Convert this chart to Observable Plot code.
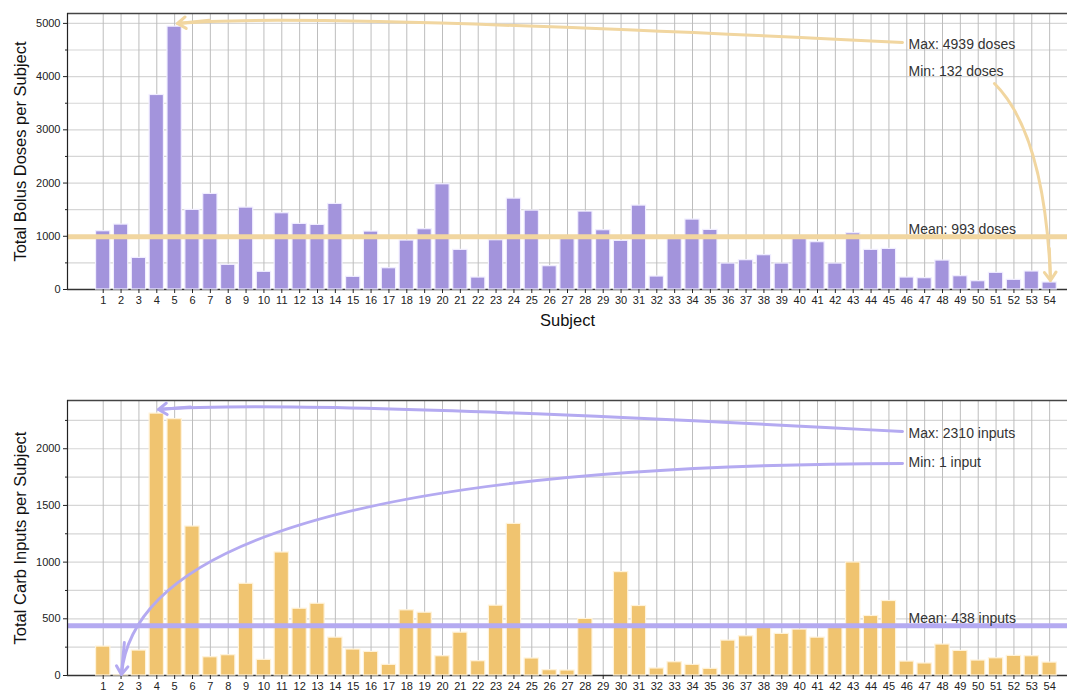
<!DOCTYPE html>
<html><head><meta charset="utf-8">
<script src="https://cdn.jsdelivr.net/npm/d3@7"></script>
<script src="https://cdn.jsdelivr.net/npm/@observablehq/plot@0.6"></script>
<style>
body{margin:0;background:#fff;}
#chart{width:1067px;height:693px;overflow:hidden;}
#chart svg{display:block;}
</style></head><body><div id="chart"></div>
<script>
// ---- data ----
const subjects = d3.range(1, 55);
const bolusDoses = [1095,1220,594,3655,4939,1496,1796,463,1539,332,1433,1233,1214,1608,238,1089,400,920,1133,1977,745,225,926,1708,1483,438,950,1464,1114,914,1577,244,950,1314,1120,488,551,645,488,970,889,488,1058,745,763,225,213,544,250,156,313,181,338,132];
const carbInputs = [255,1,220,2310,2261,1314,161,179,809,138,1085,589,633,334,229,208,94,575,554,170,378,126,616,1337,150,47,44,499,null,912,613,62,117,94,59,308,346,440,367,405,334,430,997,525,657,123,106,273,217,132,152,173,170,114];
const bolusMean = 993;
const carbMean = 438;
const bolusTicks = [0,1000,2000,3000,4000,5000];
const bolusMinor = [500,1500,2500,3500,4500];
const carbTicks = [0,500,1000,1500,2000];
const carbMinor = [250,750,1250,1750,2250];
const bolusLabels = {y: "Total Bolus Doses per Subject", x: "Subject", max: "Max: 4939 doses", min: "Min: 132 doses", mean: "Mean: 993 doses"};
const carbLabels = {y: "Total Carb Inputs per Subject", max: "Max: 2310 inputs", min: "Min: 1 input", mean: "Mean: 438 inputs"};
// annotation text anchors (data units)
const bolusNotes = [{key:"max", x:46.1, y:4600}, {key:"min", x:46.1, y:4100}];
const carbNotes = [{key:"max", x:46.1, y:2132}, {key:"min", x:46.1, y:1877}];
// annotation arrows: start, control, end (data units, quadratic curve)
const bolusArrows = [
  {x: [45.76, 11.6, 5.16], y: [4641, 5214, 4998]},
  {x: [50.91, 53.74, 54.05], y: [3871, 2922, 169]}
];
const carbArrows = [
  {x: [45.76, 11.69, 4.10], y: [2152, 2442, 2346]},
  {x: [45.76, 3.09, 2.02], y: [1870, 1852, 9]}
];

const FONT = '"Liberation Sans", Arial, Helvetica, sans-serif';
const WIDTH = 1067, ML = 67, MR = 0, XDOMAIN = [-1, 55];

// quadratic Bézier curve factory: start, control, end
function quadBezier(context) {
  let pts;
  return {
    areaStart() {}, areaEnd() {},
    lineStart() { pts = []; },
    point(x, y) { pts.push([+x, +y]); },
    lineEnd() {
      if (pts.length === 3) {
        context.moveTo(pts[0][0], pts[0][1]);
        context.quadraticCurveTo(pts[1][0], pts[1][1], pts[2][0], pts[2][1]);
      } else if (pts.length) {
        context.moveTo(pts[0][0], pts[0][1]);
        for (const p of pts.slice(1)) context.lineTo(p[0], p[1]);
      }
    }
  };
}

function arrowMarks(arrows, color, kx, ky) {
  const marks = [];
  for (const a of arrows) {
    const pts = a.x.map((x, i) => ({x, y: a.y[i]}));
    marks.push(Plot.line(pts, {x: "x", y: "y", curve: quadBezier, stroke: color, strokeWidth: 3}));
    // arrowhead along the end tangent (about 32px of shaft so the head is not clamped)
    const len = Math.hypot((a.x[1] - a.x[2]) * kx, (a.y[1] - a.y[2]) * ky);
    const f = Math.min(0.5, 32 / len);
    marks.push(Plot.arrow([a], {
      x1: d => d.x[2] + f * (d.x[1] - d.x[2]),
      y1: d => d.y[2] + f * (d.y[1] - d.y[2]),
      x2: d => d.x[2], y2: d => d.y[2],
      stroke: color, strokeWidth: 3, headLength: 5, headAngle: 70
    }));
  }
  return marks;
}

function makeChart(o) {
  const data = subjects.map((s, i) => ({subject: s, value: o.values[i]})).filter(d => d.value != null);
  const yTop = d3.max(o.values) * 1.05;
  const kx = (WIDTH - ML - MR) / (XDOMAIN[1] - XDOMAIN[0]);
  const ky = (o.height - o.marginTop - o.marginBottom) / yTop;
  const marks = [
    Plot.gridY(o.minor.concat(o.ticks.filter(t => t > 0)), {stroke: "#d6d6d6", strokeOpacity: 1, strokeWidth: 1.2}),
    Plot.gridX(subjects, {stroke: "#bdbdbd", strokeOpacity: 1}),
    Plot.ruleY([0], {stroke: "#333", strokeWidth: 1.6}),
    Plot.rectY(data, {x1: d => d.subject - 0.4, x2: d => d.subject + 0.4, y: "value", fill: o.fill, stroke: o.edge, strokeWidth: 1.2}),
    Plot.ruleY([o.mean], {stroke: o.accent, strokeWidth: 5}),
    Plot.ruleY([yTop], {stroke: "#444", strokeWidth: 1.3}),
    Plot.ruleX([XDOMAIN[0]], {stroke: "#222", strokeWidth: 1.2}),
    Plot.axisY(o.ticks, {tickSize: 4, tickPadding: 3, tickFormat: d3.format("d"), label: null, fill: "#222", stroke: "#222"}),
    Plot.axisY(o.minor, {tickSize: 2, tickFormat: () => "", label: null, stroke: "#222"}),
    Plot.axisX(subjects, {tickSize: 4, tickPadding: 3, tickFormat: d3.format("d"), label: null, fill: "#222", stroke: "#222"}),
    ...arrowMarks(o.arrows, o.accent, kx, ky),
    Plot.text(o.notes, {x: "x", y: "y", text: d => o.labels[d.key], textAnchor: "start", lineAnchor: "middle", fontSize: 14, fill: "#333"}),
    Plot.text([o.mean], {x: () => 46.1, y: d => d, dy: -7, text: () => o.labels.mean, textAnchor: "start", lineAnchor: "middle", fontSize: 14, fill: "#333"}),
    Plot.text([0], {frameAnchor: "left", dx: -47, rotate: -90, text: () => o.labels.y, fontSize: 16.5, fill: "#111", textAnchor: "middle", lineAnchor: "middle"})
  ];
  if (o.labels.x) marks.push(Plot.text([0], {frameAnchor: "bottom", dy: 31, text: () => o.labels.x, fontSize: 16.5, fill: "#111", lineAnchor: "middle"}));
  return Plot.plot({
    width: WIDTH, height: o.height,
    marginLeft: ML, marginRight: MR, marginTop: o.marginTop, marginBottom: o.marginBottom,
    style: {fontFamily: FONT, fontSize: "11px", color: "#222", background: "#fff", overflow: "visible"},
    x: {type: "linear", domain: XDOMAIN, axis: null},
    y: {domain: [0, yTop], axis: null},
    marks
  });
}

const chartEl = document.getElementById("chart");
chartEl.append(makeChart({
  values: bolusDoses, mean: bolusMean, ticks: bolusTicks, minor: bolusMinor,
  labels: bolusLabels, notes: bolusNotes, arrows: bolusArrows,
  fill: "#a394dc", edge: "#f1eeff", accent: "#f1d6a0",
  height: 340, marginTop: 13, marginBottom: 51
}));
chartEl.append(makeChart({
  values: carbInputs, mean: carbMean, ticks: carbTicks, minor: carbMinor,
  labels: carbLabels, notes: carbNotes, arrows: carbArrows,
  fill: "#f0c470", edge: "#fff3da", accent: "#b4aaf1",
  height: 353, marginTop: 60, marginBottom: 18
}));
</script></body></html>
